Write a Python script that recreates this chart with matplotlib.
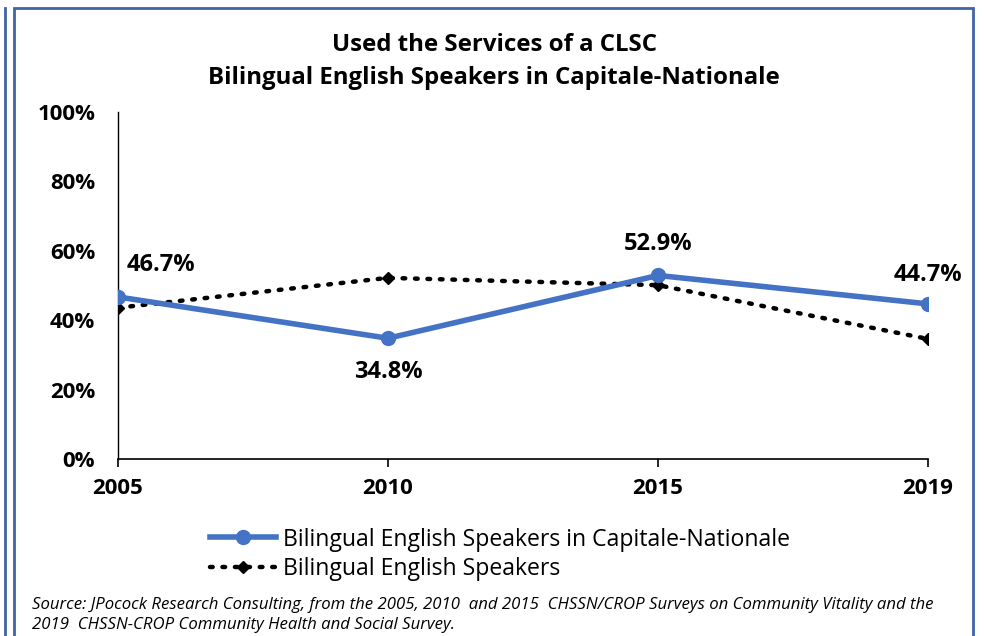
import matplotlib.pyplot as plt
from matplotlib.patches import Rectangle
from matplotlib.lines import Line2D

years = ['2005', '2010', '2015', '2019']
capitale = [46.7, 34.8, 52.9, 44.7]
bilingual = [43.6, 52.2, 50.1, 34.6]
capitale_labels = ['46.7%', '34.8%', '52.9%', '44.7%']
yticks = [0, 20, 40, 60, 80, 100]

plt.rcParams['font.family'] = ['Open Sans', 'DejaVu Sans']
blue = '#4472C4'
frame = '#3F64A8'

fig = plt.figure(figsize=(9.84, 6.36), dpi=100)
ax = fig.add_axes([118 / 984, 1 - 459 / 636, (928 - 118) / 984, (459 - 112) / 636])

x = list(range(len(years)))
ax.plot(x, bilingual, color='black', linestyle=(0, (0.6, 2.2)), linewidth=3.2,
        dash_capstyle='round', marker='D', markersize=6, zorder=2)
ax.plot(x, capitale, color=blue, linewidth=4, marker='o', markersize=10, zorder=3,
        solid_capstyle='round')

# data labels for the Capitale-Nationale series (offsets in pixels)
offsets = [(43, 32), (0, -34), (0, 31), (0, 29)]
for xi, v, lab, (dx, dy) in zip(x, capitale, capitale_labels, offsets):
    ax.annotate(lab, (xi, v), xytext=(dx * 0.72, dy * 0.72), textcoords='offset points',
                ha='center', va='center', fontsize=17, fontweight='bold')

ax.set_xlim(0, 3)
ax.set_ylim(0, 100)
ax.set_xticks(x)
ax.set_xticklabels(years, fontsize=16, fontweight='bold')
ax.set_yticks(yticks)
ax.set_yticklabels([f'{t}%' for t in yticks], fontsize=16, fontweight='bold')
ax.tick_params(axis='y', length=0, pad=16.5)
ax.tick_params(axis='x', direction='out', length=6, width=1.2, pad=8)
for s in ['top', 'right']:
    ax.spines[s].set_visible(False)
ax.spines['left'].set_linewidth(1)
ax.spines['bottom'].set_linewidth(1.2)

fig.text(494 / 984, 1 - 45 / 636, 'Used the Services of a CLSC', ha='center', va='center',
         fontsize=17.3, fontweight='bold')
fig.text(494 / 984, 1 - 78 / 636, 'Bilingual English Speakers in Capitale-Nationale',
         ha='center', va='center', fontsize=17.3, fontweight='bold')

handles = [
    Line2D([], [], color=blue, linewidth=4, marker='o', markersize=10),
    Line2D([], [], color='black', linestyle=(0, (0.6, 2.2)), linewidth=3.2,
           dash_capstyle='round', marker='D', markersize=6),
]
fig.legend(handles, ['Bilingual English Speakers in Capitale-Nationale',
                     'Bilingual English Speakers'],
           loc='upper left', bbox_to_anchor=(198 / 984, 1 - 516 / 636), frameon=False,
           fontsize=16.6, handlelength=2.9, handletextpad=0.3, labelspacing=0.25,
           borderpad=0)

fig.text(32 / 984, 1 - 615 / 636,
         'Source: JPocock Research Consulting, from the 2005, 2010  and 2015  CHSSN/CROP Surveys '
         'on Community Vitality and the\n2019  CHSSN-CROP Community Health and Social Survey.',
         ha='left', va='center', fontsize=12.1, style='italic', linespacing=1.3)

# outer frame lines
fig.add_artist(Rectangle((14 / 984, -0.05), (973 - 14) / 984, 1.05 - 8 / 636,
                         transform=fig.transFigure, fill=False, edgecolor=frame, linewidth=2))
fig.add_artist(Line2D([5 / 984, 5 / 984], [0, 1 - 8 / 636], transform=fig.transFigure,
                      color=frame, linewidth=2))

fig.savefig('out.png', dpi=100)
